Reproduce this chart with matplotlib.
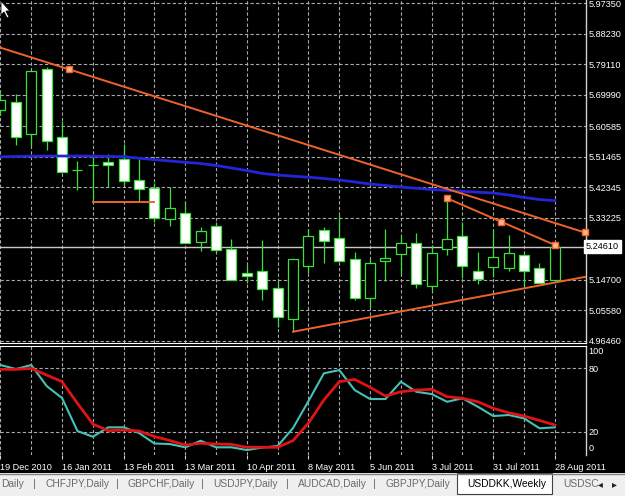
import matplotlib

matplotlib.use("Agg")
matplotlib.rcParams["font.family"] = ["Liberation Sans", "DejaVu Sans"]
import matplotlib.pyplot as plt
from matplotlib.patches import Rectangle, Polygon
import numpy as np

BG = "#000000"
GRID = "#a8a8a8"
CANDLE = "#3ce03c"
TREND = "#f0622a"
MA_COL = "#2424d8"
K_COL = "#45c2b6"
D_COL = "#e01414"
TEXT = "#ffffff"

# weekly USDDKK bars, 19 Dec 2010 .. 28 Aug 2011
OPEN = [5.654, 5.679, 5.582, 5.776, 5.573, 5.475, 5.490, 5.500, 5.507, 5.445,
        5.422, 5.328, 5.345, 5.259, 5.308, 5.238, 5.166, 5.173, 5.121, 5.029,
        5.189, 5.296, 5.273, 5.208, 5.093, 5.203, 5.224, 5.256, 5.128, 5.239,
        5.278, 5.173, 5.186, 5.181, 5.221, 5.183, 5.146]
HIGH = [5.705, 5.701, 5.771, 5.784, 5.622, 5.502, 5.515, 5.523, 5.553, 5.507,
        5.437, 5.425, 5.380, 5.305, 5.321, 5.269, 5.191, 5.266, 5.143, 5.209,
        5.298, 5.305, 5.340, 5.230, 5.208, 5.298, 5.278, 5.287, 5.251, 5.390,
        5.321, 5.230, 5.298, 5.281, 5.224, 5.198, 5.2461]
LOW = [5.639, 5.550, 5.548, 5.535, 5.469, 5.415, 5.377, 5.425, 5.430, 5.380,
       5.321, 5.307, 5.256, 5.233, 5.231, 5.146, 5.136, 5.086, 5.005, 4.992,
       5.166, 5.197, 5.204, 5.086, 5.064, 5.143, 5.164, 5.121, 5.114, 5.221,
       5.151, 5.134, 5.154, 5.173, 5.128, 5.136, 5.140]
CLOSE = [5.684, 5.574, 5.771, 5.563, 5.470, 5.474, 5.489, 5.490, 5.442, 5.418,
         5.331, 5.360, 5.258, 5.293, 5.236, 5.146, 5.158, 5.119, 5.036, 5.208,
         5.279, 5.264, 5.204, 5.091, 5.198, 5.211, 5.256, 5.133, 5.226, 5.268,
         5.189, 5.148, 5.214, 5.226, 5.173, 5.136, 5.2461]

# moving average (blue)
MA = [5.5145, 5.5154, 5.5163, 5.5169, 5.5169, 5.5169, 5.5163, 5.5157, 5.5148, 5.5103,
      5.5059, 5.5020, 5.4981, 5.4945, 5.4885, 5.4810, 5.4735, 5.4646, 5.4601, 5.4565,
      5.4535, 5.4496, 5.4452, 5.4392, 5.4332, 5.4287, 5.4242, 5.4203, 5.4168, 5.4138,
      5.4114, 5.4087, 5.4063, 5.4003, 5.3928, 5.3868, 5.3833]

# stochastic %K (cyan) and %D (red)
STOCH_K = [83.1, 79.3, 83.1, 63.2, 51.8, 20.6, 15.2, 24.1, 24.1, 18.7,
           8.8, 8.3, 5.2, 11.4, 5.2, 5.2, 2.6, 5.0, 6.4, 23.5,
           49.0, 75.2, 78.3, 59.4, 50.9, 50.9, 67.3, 57.8, 55.6, 48.3,
           51.6, 43.6, 34.8, 35.8, 32.6, 23.2, 24.1]
STOCH_D = [79.0, 79.0, 79.9, 73.6, 67.3, 46.8, 27.2, 20.9, 21.6, 20.6,
           15.4, 11.6, 7.4, 9.0, 8.3, 8.0, 5.2, 5.2, 5.2, 11.6,
           28.2, 50.0, 67.3, 69.5, 62.0, 53.7, 57.8, 59.4, 60.1, 53.1,
           51.6, 48.3, 42.1, 37.9, 34.8, 30.6, 26.3]

BID = 5.24610
PRICE_TICKS = [5.97350, 5.88230, 5.79110, 5.69990, 5.60585, 5.51465,
               5.42345, 5.33225, 5.14700, 5.05580, 4.96460]
STOCH_TICKS = [100, 80, 20, 0]
STOCH_LEVELS = [80, 20]

DATE_LABELS = ["19 Dec 2010", "16 Jan 2011", "13 Feb 2011", "13 Mar 2011",
               "10 Apr 2011", "8 May 2011", "5 Jun 2011", "3 Jul 2011",
               "31 Jul 2011", "28 Aug 2011"]

# drawn objects: (bar, price) anchors
TL_UPPER = [(4.48, 5.7756), (37.94, 5.2882)]
TL_MID = [(29, 5.3904), (36, 5.2508)]
TL_LOW = [(19, 4.9915), (38.1, 5.1566)]
HSEG = [(6, 5.3788), (10, 5.3788)]

TABS = ["Daily", "CHFJPY,Daily", "GBPCHF,Daily", "USDJPY,Daily",
        "AUDCAD,Daily", "GBPJPY,Daily", "USDDKK,Weekly", "USDSC"]
ACTIVE_TAB = "USDDKK,Weekly"

W, H = 625, 496
XMIN, XMAX = -0.03, 38.02
FS = 6.6


def fx(px):
    return px / W


def fy(py):
    return 1 - py / H


def grid_style(ax):
    ax.set_facecolor(BG)
    for s in ["top", "left", "bottom", "right"]:
        ax.spines[s].set_visible(False)
    ax.spines["right"].set_visible(True)
    ax.spines["right"].set_color("#d0d0d0")
    ax.spines["right"].set_linewidth(1)
    ax.set_xlim(XMIN, XMAX)
    for b in range(0, 37, 2):
        ax.axvline(b, color=GRID, lw=0.8, ls=(0, (3, 2)), zorder=1)


def main():
    fig = plt.figure(figsize=(W / 100, H / 100), dpi=100)
    fig.patch.set_facecolor(BG)

    n = len(OPEN)
    x = np.arange(n)

    # ---------------- price panel
    ax = fig.add_axes([0, fy(343), fx(586), 343 / H])
    grid_style(ax)
    ax.spines["bottom"].set_visible(True)
    ax.spines["bottom"].set_color("#ffffff")
    ax.set_ylim(4.9577, 5.9834)
    for p in PRICE_TICKS:
        ax.axhline(p, color=GRID, lw=0.8, ls=(0, (3, 2)), zorder=1)
    ax.axhline(BID, color="#c8c8c8", lw=1, zorder=2)

    o = np.array(OPEN)
    c = np.array(CLOSE)
    ax.vlines(x, LOW, HIGH, color=CANDLE, lw=0.9, zorder=3)
    bull = c >= o
    ax.bar(x[bull], (c - o)[bull], bottom=o[bull], width=0.65,
           facecolor="#000000", edgecolor=CANDLE, linewidth=0.9, zorder=4)
    ax.bar(x[~bull], (o - c)[~bull], bottom=c[~bull], width=0.65,
           facecolor="#ffffff", edgecolor=CANDLE, linewidth=0.9, zorder=4)

    ax.plot(x, MA, color=MA_COL, lw=2, zorder=5)

    ax.axline(TL_UPPER[0], TL_UPPER[1], color=TREND, lw=1.4, zorder=6)
    for seg in (TL_MID, TL_LOW, HSEG):
        xs, ys = zip(*seg)
        ax.plot(xs, ys, color=TREND, lw=1.4, zorder=6)
    mk = dict(marker="s", ms=4, mfc="#ffb48c", mec=TREND, mew=1, ls="none",
              zorder=7, clip_on=False)
    ax.plot(*zip(*TL_UPPER), **mk)
    mid_x = [TL_MID[0][0], (TL_MID[0][0] + TL_MID[1][0]) / 2, TL_MID[1][0]]
    mid_y = [TL_MID[0][1], (TL_MID[0][1] + TL_MID[1][1]) / 2, TL_MID[1][1]]
    ax.plot(mid_x, mid_y, **mk)

    ax.set_xticks([])
    ax.yaxis.tick_right()
    ax.set_yticks(PRICE_TICKS)
    ax.set_yticklabels([f"{p:.5f}" for p in PRICE_TICKS])
    ax.tick_params(axis="y", length=0, pad=2, labelsize=FS, labelcolor=TEXT)
    ax.text(1.0, BID, f"{BID:.5f}", transform=ax.get_yaxis_transform(),
            ha="left", va="center", fontsize=FS, color="#000000",
            bbox=dict(boxstyle="square,pad=0.2", facecolor="#ffffff",
                      edgecolor="#ffffff"), clip_on=False, zorder=8)

    # ---------------- stochastic panel
    ax2 = fig.add_axes([0, fy(455), fx(586), 109 / H])
    grid_style(ax2)
    ax2.spines["top"].set_visible(True)
    ax2.spines["top"].set_color("#ffffff")
    ax2.set_ylim(-2.08, 101.1)
    for lv in STOCH_LEVELS:
        ax2.axhline(lv, color=GRID, lw=0.8, ls=(0, (3, 2)), zorder=1)
    ax2.plot(x, STOCH_K, color=K_COL, lw=1.5, zorder=3)
    ax2.plot(x, STOCH_D, color=D_COL, lw=2, zorder=4)

    ax2.yaxis.tick_right()
    ax2.set_yticks(STOCH_TICKS)
    ax2.set_yticklabels([str(v) for v in STOCH_TICKS])
    ax2.tick_params(axis="y", length=0, pad=2, labelsize=FS, labelcolor=TEXT)
    ylabels = ax2.get_yticklabels()
    ylabels[0].set_va("top")
    ylabels[-1].set_va("bottom")

    date_pos = list(range(0, 37, 4))
    ax2.set_xticks(date_pos)
    ax2.set_xticklabels(DATE_LABELS)
    for lab in ax2.get_xticklabels():
        lab.set_ha("left")
    ax2.tick_params(axis="x", length=3, color="#d0d0d0", pad=3,
                    labelsize=FS, labelcolor=TEXT)

    # ---------------- tab bar
    tb = fig.add_axes([0, 0, 1, 23 / H])
    tb.set_xlim(0, W)
    tb.set_ylim(23, 0)
    tb.axis("off")
    tb.add_patch(Rectangle((0, 0), W, 23, facecolor="#efefef", edgecolor="none"))
    tb.plot([0, W], [0.5, 0.5], color="#808080", lw=1)
    tab_x = [1, 45, 128, 213, 298, 385, 467, 563]
    for i, (t, tx) in enumerate(zip(TABS, tab_x)):
        if t == ACTIVE_TAB:
            tb.add_patch(Rectangle((457, 0), 95, 21, facecolor="#ffffff",
                                   edgecolor="#404040", lw=0.8))
            tb.text(tx, 11, t, ha="left", va="center", fontsize=7.4, color="#000000")
        else:
            tb.text(tx, 11, t, ha="left", va="center", fontsize=7.4, color="#6a6a6a")
        if i < 5:
            tb.text(tab_x[i + 1] - 11, 11, "|", ha="center", va="center",
                    fontsize=8, color="#6a6a6a")
    tb.text(600, 11, "\u25c2", ha="center", va="center", fontsize=7,
            color="#202020", family="DejaVu Sans")
    tb.text(614, 11, "\u25b8", ha="center", va="center", fontsize=7,
            color="#202020", family="DejaVu Sans")

    # mouse cursor
    cur = [(1, 1), (1, 15), (4, 12), (7, 18), (9, 17), (6, 11), (10, 11)]
    fig.add_artist(Polygon([(fx(a), fy(b)) for a, b in cur], closed=True,
                           facecolor="#ffffff", edgecolor="#000000", lw=0.6,
                           transform=fig.transFigure, zorder=20))

    fig.savefig("out.png", dpi=100, facecolor=BG)
    plt.close(fig)


if __name__ == "__main__":
    main()
